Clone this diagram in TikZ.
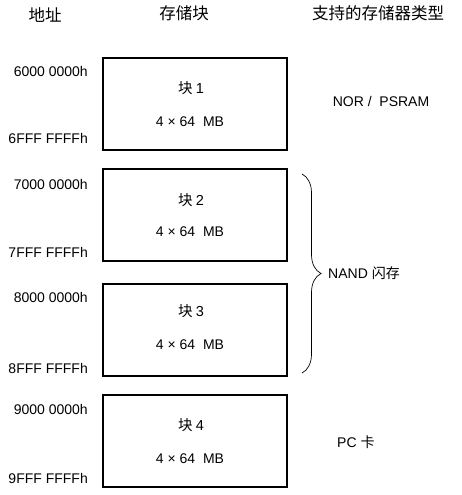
\documentclass[tikz,border=0pt]{standalone}
\usepackage{fontspec}
\setmainfont{Liberation Sans}
\newfontfamily\cjk{Noto Sans CJK SC}
\usetikzlibrary{decorations.pathreplacing}
\begin{document}
\begin{tikzpicture}[x=1pt,y=-1pt,
  blk/.style={draw, line width=2.6pt, minimum width=184pt, minimum height=92pt, inner sep=0pt},
  addr/.style={anchor=east, font=\fontsize{14}{16}\selectfont, inner sep=0pt},
  hdr/.style={font=\cjk\fontsize{16.5}{18}\selectfont, inner sep=0pt},
  lbl/.style={font=\fontsize{14}{16}\selectfont, inner sep=0pt},
  bname/.style={font=\cjk\fontsize{14.5}{16}\selectfont, inner sep=0pt}]
\useasboundingbox (0,0) rectangle (462,495);
% headers
\node[hdr] (h1) at (45,15) {地址};
\node[hdr] (h2) at (184,13) {存储块};
\node[hdr] (h3) at (378,13) {支持的存储器类型};
% blocks
\node[blk] (b1) at (195,104) {};
\node[blk] (b2) at (195,215) {};
\node[blk] (b3) at (195,330) {};
\node[blk] (b4) at (195,441) {};
% block texts
\node[bname] (n1) at (191,88) {块 {\rmfamily 1}};
\node[lbl] (s1) at (190,122) {4 × 64 \ MB};
\node[bname] (n2) at (191,200) {块 {\rmfamily 2}};
\node[lbl] (s2) at (190,232) {4 × 64 \ MB};
\node[bname] (n3) at (191,311) {块 {\rmfamily 3}};
\node[lbl] (s3) at (190,345) {4 × 64 \ MB};
\node[bname] (n4) at (191,425) {块 {\rmfamily 4}};
\node[lbl] (s4) at (190,459) {4 × 64 \ MB};
% addresses
\node[addr] (a1) at (88,71) {6000 0000h};
\node[addr] (a2) at (88,138) {6FFF FFFFh};
\node[addr] (a3) at (88,184) {7000 0000h};
\node[addr] (a4) at (88,252) {7FFF FFFFh};
\node[addr] (a5) at (88,297) {8000 0000h};
\node[addr] (a6) at (88,368) {8FFF FFFFh};
\node[addr] (a7) at (88,409) {9000 0000h};
\node[addr] (a8) at (88,478) {9FFF FFFFh};
% memory types
\node[lbl] (t1) at (381,101) {NOR / \ PSRAM};
\coordinate (bt) at (302,174);
\coordinate (bb) at (302,373);
\draw[line width=0.7pt, decorate, decoration={brace, amplitude=19pt}] (bt) -- (bb);
\node[lbl, anchor=west] (t2) at (328,273) {NAND {\cjk 闪存}};
\node[lbl, anchor=west] (t3) at (337,442) {PC {\cjk 卡}};
\end{tikzpicture}
\end{document}
